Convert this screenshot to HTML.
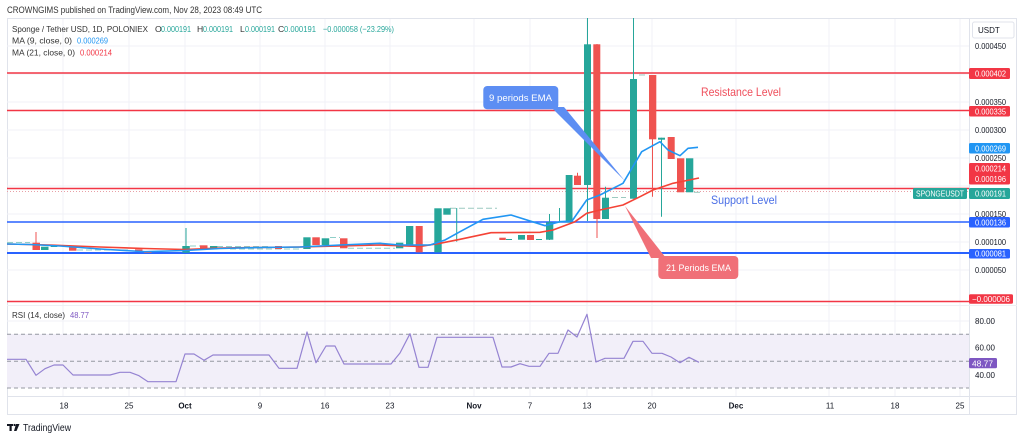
<!DOCTYPE html>
<html>
<head>
<meta charset="utf-8">
<style>
html,body{margin:0;padding:0;background:#fff;}
svg{display:block;}
text{font-family:"Liberation Sans",sans-serif;}
</style>
</head>
<body>
<svg width="1024" height="439" viewBox="0 0 1024 439" xmlns="http://www.w3.org/2000/svg">
<rect width="1024" height="439" fill="#fff"/>

<!-- header -->
<text x="7" y="13" font-size="9" fill="#333" textLength="255" lengthAdjust="spacingAndGlyphs">CROWNGIMS published on TradingView.com, Nov 28, 2023 08:49 UTC</text>

<!-- frame -->
<rect x="7.5" y="18.5" width="1009" height="396" fill="none" stroke="#e0e3eb" stroke-width="1"/>

<!-- grid -->
<g stroke="#f0f2f7" stroke-width="1">
<line x1="63" y1="19" x2="63" y2="396"/>
<line x1="129" y1="19" x2="129" y2="396"/>
<line x1="185" y1="19" x2="185" y2="396"/>
<line x1="260" y1="19" x2="260" y2="396"/>
<line x1="325" y1="19" x2="325" y2="396"/>
<line x1="390" y1="19" x2="390" y2="396"/>
<line x1="474" y1="19" x2="474" y2="396"/>
<line x1="530" y1="19" x2="530" y2="396"/>
<line x1="587" y1="19" x2="587" y2="396"/>
<line x1="652" y1="19" x2="652" y2="396"/>
<line x1="736" y1="19" x2="736" y2="396"/>
<line x1="829" y1="19" x2="829" y2="396"/>
<line x1="895" y1="19" x2="895" y2="396"/>
<line x1="960" y1="19" x2="960" y2="396"/>
<line x1="7" y1="46" x2="969" y2="46"/>
<line x1="7" y1="74" x2="969" y2="74"/>
<line x1="7" y1="102" x2="969" y2="102"/>
<line x1="7" y1="130" x2="969" y2="130"/>
<line x1="7" y1="158" x2="969" y2="158"/>
<line x1="7" y1="186" x2="969" y2="186"/>
<line x1="7" y1="214" x2="969" y2="214"/>
<line x1="7" y1="242" x2="969" y2="242"/>
<line x1="7" y1="270" x2="969" y2="270"/>
<line x1="7" y1="321" x2="969" y2="321"/>
<line x1="7" y1="347" x2="969" y2="347"/>
<line x1="7" y1="375" x2="969" y2="375"/>
</g>

<!-- axis separators -->
<line x1="969.5" y1="18" x2="969.5" y2="415" stroke="#e0e3eb"/>
<line x1="7" y1="396.5" x2="1017" y2="396.5" stroke="#e0e3eb"/>
<line x1="7" y1="305.5" x2="1017" y2="305.5" stroke="#eef0f4"/>

<!-- legend -->
<g font-size="8.6">
<text x="12" y="32" fill="#333" textLength="136" lengthAdjust="spacingAndGlyphs">Sponge / Tether USD, 1D, POLONIEX</text>
<text x="155" y="32" fill="#333">O</text><text x="161" y="32" fill="#26a69a" textLength="30" lengthAdjust="spacingAndGlyphs">0.000191</text>
<text x="197" y="32" fill="#333">H</text><text x="203" y="32" fill="#26a69a" textLength="30" lengthAdjust="spacingAndGlyphs">0.000191</text>
<text x="240" y="32" fill="#333">L</text><text x="245" y="32" fill="#26a69a" textLength="30" lengthAdjust="spacingAndGlyphs">0.000191</text>
<text x="278" y="32" fill="#333">C</text><text x="284" y="32" fill="#26a69a" textLength="32" lengthAdjust="spacingAndGlyphs">0.000191</text>
<text x="323" y="32" fill="#26a69a" textLength="71" lengthAdjust="spacingAndGlyphs">−0.000058 (−23.29%)</text>
<text x="12" y="43.5" fill="#333" textLength="60" lengthAdjust="spacingAndGlyphs">MA (9, close, 0)</text>
<text x="77" y="43.5" fill="#2196f3" textLength="31" lengthAdjust="spacingAndGlyphs">0.000269</text>
<text x="12" y="55.5" fill="#333" textLength="63" lengthAdjust="spacingAndGlyphs">MA (21, close, 0)</text>
<text x="80" y="55.5" fill="#f23645" textLength="32" lengthAdjust="spacingAndGlyphs">0.000214</text>
</g>

<!-- horizontal level lines -->
<line x1="7" y1="73" x2="969" y2="73" stroke="#f23645" stroke-width="1.4"/>
<line x1="7" y1="110.5" x2="969" y2="110.5" stroke="#f23645" stroke-width="1.4"/>
<line x1="7" y1="188.5" x2="969" y2="188.5" stroke="#f23645" stroke-width="1.4"/>
<line x1="7" y1="191.5" x2="969" y2="191.5" stroke="#e8a0a6" stroke-width="1" stroke-dasharray="1,2"/>
<line x1="7" y1="222" x2="969" y2="222" stroke="#2962ff" stroke-width="1.5"/>
<line x1="7" y1="253" x2="969" y2="253" stroke="#2962ff" stroke-width="2"/>
<line x1="7" y1="301.5" x2="969" y2="301.5" stroke="#f23645" stroke-width="1.4"/>

<!-- doji dashes -->
<g stroke-width="1" stroke-dasharray="6,3">
<line x1="7" y1="242.5" x2="30" y2="242.5" stroke="#8fcfc8"/>
<line x1="77" y1="250" x2="130" y2="250" stroke="#8fcfc8"/>
<line x1="190" y1="246" x2="200" y2="246" stroke="#8fcfc8"/>
<line x1="217" y1="246.5" x2="270" y2="246.5" stroke="#8fcfc8"/>
<line x1="230" y1="249" x2="300" y2="249" stroke="#8fcfc8"/>
<line x1="330" y1="237.5" x2="340" y2="237.5" stroke="#8fcfc8"/>
<line x1="348" y1="248.3" x2="395" y2="248.3" stroke="#8fcfc8"/>
<line x1="450" y1="208.3" x2="497" y2="208.3" stroke="#9cc9c0"/>
<line x1="506" y1="239.5" x2="515" y2="239.5" stroke="#26a69a"/>
<line x1="536" y1="239.5" x2="544" y2="239.5" stroke="#26a69a"/>
<line x1="612" y1="197.5" x2="626" y2="197.5" stroke="#9cc9c0"/>
<line x1="639" y1="75" x2="647" y2="75" stroke="#9cc9c0"/>
<line x1="694" y1="192.3" x2="702" y2="192.3" stroke="#9cc9c0"/>
</g>

<!-- wicks -->
<g stroke-width="1">
<line x1="36" y1="232" x2="36" y2="250" stroke="#ef5350"/>
<line x1="186" y1="228" x2="186" y2="252.7" stroke="#26a69a"/>
<line x1="456.7" y1="208" x2="456.7" y2="241.7" stroke="#26a69a"/>
<line x1="549.5" y1="214" x2="549.5" y2="240" stroke="#26a69a"/>
<line x1="559.5" y1="208" x2="559.5" y2="222" stroke="#26a69a"/>
<line x1="577.5" y1="172.7" x2="577.5" y2="185" stroke="#ef5350"/>
<line x1="587.5" y1="18" x2="587.5" y2="221" stroke="#26a69a"/>
<line x1="597" y1="44" x2="597" y2="238" stroke="#ef5350"/>
<line x1="605.5" y1="186.7" x2="605.5" y2="219" stroke="#26a69a"/>
<line x1="633.5" y1="18" x2="633.5" y2="198.7" stroke="#26a69a"/>
<line x1="652.5" y1="75" x2="652.5" y2="196.7" stroke="#ef5350"/>
<line x1="661.5" y1="137.7" x2="661.5" y2="216.7" stroke="#26a69a"/>
</g>

<!-- candles -->
<g>
<rect x="32.5" y="242.7" width="7.5" height="7.3" fill="#ef5350"/>
<rect x="41" y="246.7" width="7.5" height="3.3" fill="#26a69a"/>
<rect x="50.7" y="245" width="6.6" height="2" fill="#26a69a"/>
<rect x="69" y="245.7" width="7.5" height="5" fill="#ef5350"/>
<rect x="135" y="249.3" width="7.5" height="2.4" fill="#ef5350"/>
<rect x="144" y="251" width="7.5" height="2" fill="#ef5350"/>
<rect x="182.3" y="246" width="7.5" height="6.7" fill="#26a69a"/>
<rect x="200" y="245.3" width="7.5" height="4" fill="#ef5350"/>
<rect x="210" y="246" width="7.3" height="3.3" fill="#26a69a"/>
<rect x="275" y="246" width="7" height="3" fill="#ef5350"/>
<rect x="303.3" y="237.3" width="7.3" height="11.7" fill="#26a69a"/>
<rect x="312.3" y="237.3" width="7.5" height="7.7" fill="#ef5350"/>
<rect x="321.7" y="238.3" width="7.5" height="6.7" fill="#26a69a"/>
<rect x="340" y="238.3" width="7.5" height="10" fill="#ef5350"/>
<rect x="396" y="242.7" width="7.3" height="5.6" fill="#26a69a"/>
<rect x="406" y="226" width="7.3" height="19" fill="#26a69a"/>
<rect x="415.7" y="226" width="7" height="26.3" fill="#ef5350"/>
<rect x="434.3" y="208.3" width="7.4" height="44" fill="#26a69a"/>
<rect x="443.3" y="208.3" width="7.4" height="6.4" fill="#26a69a"/>
<rect x="499.3" y="237.7" width="6.5" height="2.3" fill="#ef5350"/>
<rect x="518" y="235" width="7" height="4.7" fill="#26a69a"/>
<rect x="527" y="235" width="7" height="5" fill="#ef5350"/>
<rect x="546" y="222.3" width="7.3" height="17.4" fill="#26a69a"/>
<rect x="565.7" y="175" width="6.8" height="47.5" fill="#26a69a"/>
<rect x="574" y="175.7" width="7" height="9.3" fill="#ef5350"/>
<rect x="584" y="44.3" width="7" height="140.7" fill="#26a69a"/>
<rect x="593.3" y="44.3" width="7" height="174.7" fill="#ef5350"/>
<rect x="602" y="197.7" width="7" height="21.3" fill="#26a69a"/>
<rect x="630" y="79" width="7" height="119.7" fill="#26a69a"/>
<rect x="649" y="75" width="7.3" height="64.3" fill="#ef5350"/>
<rect x="658" y="137.7" width="7" height="2" fill="#26a69a"/>
<rect x="667.7" y="137" width="7" height="22" fill="#ef5350"/>
<rect x="677" y="158.3" width="7.3" height="34" fill="#ef5350"/>
<rect x="686" y="158.3" width="7.3" height="34" fill="#26a69a"/>
</g>

<!-- MA lines -->
<polyline fill="none" stroke="#f44336" stroke-width="1.6" stroke-linejoin="round" points="7,244 50,245 100,247 145,248.5 185,249.5 220,248 260,247.5 300,247 340,246 380,245 420,246.5 440,243.3 460,239.3 491,232.7 540,232.3 553,230 575,221.7 586.7,213.3 600,210 623,205 640,196.7 653,190 673,183.3 699,178"/>
<polyline fill="none" stroke="#2196f3" stroke-width="1.6" stroke-linejoin="round" points="7,244 30,244.5 60,246 100,249 145,251.7 185,250.5 220,248.5 260,247.5 300,247 340,245 380,243.3 400,245 430,245 445,240 460,231.7 483,219.3 511,215 545,225.7 560,221.7 572,221 586.7,200 600,195 623,183.3 641.7,151.7 660,141.7 668,150 680,155.7 688,148.3 698,147.3"/>

<!-- annotations -->
<polygon points="551,107 564,107 625,181" fill="#5d8ef3"/>
<rect x="483.3" y="86" width="75" height="23.3" rx="4" fill="#5d8ef3"/>
<text x="489" y="101" font-size="9.5" fill="#fff" textLength="63" lengthAdjust="spacingAndGlyphs">9 periods EMA</text>

<polygon points="625,206 651,258 666,258" fill="#f07078"/>
<rect x="658.3" y="256" width="80" height="23" rx="4" fill="#f07078"/>
<text x="666" y="271" font-size="9.5" fill="#fff" textLength="65" lengthAdjust="spacingAndGlyphs">21 Periods EMA</text>

<text x="701" y="96" font-size="12" fill="#ef4f5c" textLength="80" lengthAdjust="spacingAndGlyphs">Resistance Level</text>
<text x="711" y="204" font-size="12" fill="#4b6fe6" textLength="66" lengthAdjust="spacingAndGlyphs">Support Level</text>

<!-- RSI -->
<rect x="7" y="334" width="962" height="54" fill="#f2eff9"/>
<g stroke="#9598a1" stroke-width="1" stroke-dasharray="4,3">
<line x1="7" y1="334.3" x2="969" y2="334.3"/>
<line x1="7" y1="361.3" x2="969" y2="361.3"/>
<line x1="7" y1="388" x2="969" y2="388"/>
</g>
<polyline fill="none" stroke="#9583d2" stroke-width="1.2" stroke-linejoin="round" points="7,359.3 26,359.3 36,375.3 45,368.7 54,365 63,365 73,375 110,375 120,372.3 130,372.3 139,375.7 148,381.7 176,381.7 185,354 194,354 204,360.3 213,355 269,355 279,368.3 297,368.3 307,332 316,362.7 326,346 335,346 344,364 391,364 400,353 410,333.7 419,367.3 428,367.3 437,337.3 493,337.3 502,367 511,367 520,363.7 529,366.3 540,366.3 549,353.3 558,353.3 568,330 577,337 587,314.3 596,362 605,358.3 624,358.3 633,341.3 643,341.3 652,353.3 662,353.3 671,357 680,362.7 689,357.3 699,362.3"/>
<text x="12" y="318" font-size="8.6" fill="#333" textLength="53" lengthAdjust="spacingAndGlyphs">RSI (14, close)</text>
<text x="70" y="318" font-size="8.6" fill="#7e57c2" textLength="19" lengthAdjust="spacingAndGlyphs">48.77</text>

<!-- right axis -->
<rect x="972.5" y="22" width="41.5" height="16" rx="2" fill="#fff" stroke="#e0e3eb"/>
<text x="978" y="33" font-size="8" fill="#131722">USDT</text>
<g font-size="7.8" fill="#131722">
<text x="975" y="49" textLength="31" lengthAdjust="spacingAndGlyphs">0.000450</text>
<text x="975" y="105" textLength="31" lengthAdjust="spacingAndGlyphs">0.000350</text>
<text x="975" y="133" textLength="31" lengthAdjust="spacingAndGlyphs">0.000300</text>
<text x="975" y="161" textLength="31" lengthAdjust="spacingAndGlyphs">0.000250</text>
<text x="975" y="217" textLength="31" lengthAdjust="spacingAndGlyphs">0.000150</text>
<text x="975" y="245" textLength="31" lengthAdjust="spacingAndGlyphs">0.000100</text>
<text x="975" y="273" textLength="31" lengthAdjust="spacingAndGlyphs">0.000050</text>
<text x="975" y="324" textLength="20" lengthAdjust="spacingAndGlyphs">80.00</text>
<text x="975" y="350.5" textLength="20" lengthAdjust="spacingAndGlyphs">60.00</text>
<text x="975" y="378" textLength="20" lengthAdjust="spacingAndGlyphs">40.00</text>
</g>
<g>
<rect x="969" y="68" width="41" height="11" rx="1.5" fill="#f23645"/>
<rect x="969" y="106" width="41" height="10.5" rx="1.5" fill="#f23645"/>
<rect x="969" y="143" width="41" height="10.5" rx="1.5" fill="#2196f3"/>
<rect x="969" y="163" width="41" height="21.5" rx="1.5" fill="#f23645"/>
<rect x="969" y="188" width="41" height="11" rx="1.5" fill="#26a69a"/>
<rect x="913" y="188" width="54" height="11" rx="1.5" fill="#26a69a"/>
<rect x="969" y="217" width="41" height="10.5" rx="1.5" fill="#2962ff"/>
<rect x="969" y="249" width="41" height="9.5" rx="1.5" fill="#2962ff"/>
<rect x="969" y="294.3" width="44" height="9.5" rx="1.5" fill="#f23645"/>
<rect x="969" y="358" width="28" height="10.3" rx="1.5" fill="#7e57c2"/>
</g>
<g font-size="7.8" fill="#fff">
<text x="975" y="76.5" textLength="31" lengthAdjust="spacingAndGlyphs">0.000402</text>
<text x="975" y="114.3" textLength="31" lengthAdjust="spacingAndGlyphs">0.000335</text>
<text x="975" y="151.3" textLength="31" lengthAdjust="spacingAndGlyphs">0.000269</text>
<text x="975" y="171.3" textLength="31" lengthAdjust="spacingAndGlyphs">0.000214</text>
<text x="975" y="182" textLength="31" lengthAdjust="spacingAndGlyphs">0.000196</text>
<text x="975" y="196.5" textLength="31" lengthAdjust="spacingAndGlyphs">0.000191</text>
<text x="916" y="196.5" textLength="48" lengthAdjust="spacingAndGlyphs">SPONGEUSDT</text>
<text x="975" y="225.3" textLength="31" lengthAdjust="spacingAndGlyphs">0.000136</text>
<text x="975" y="256.7" textLength="31" lengthAdjust="spacingAndGlyphs">0.000081</text>
<text x="972" y="302" textLength="38" lengthAdjust="spacingAndGlyphs">−0.000006</text>
<text x="972" y="366.3" textLength="21" lengthAdjust="spacingAndGlyphs">48.77</text>
</g>

<!-- time axis -->
<g font-size="8" fill="#131722" text-anchor="middle">
<text x="64" y="408.5">18</text>
<text x="129" y="408.5">25</text>
<text x="185" y="408.5" font-weight="bold">Oct</text>
<text x="260" y="408.5">9</text>
<text x="325" y="408.5">16</text>
<text x="390" y="408.5">23</text>
<text x="474" y="408.5" font-weight="bold">Nov</text>
<text x="530" y="408.5">7</text>
<text x="587" y="408.5">13</text>
<text x="652" y="408.5">20</text>
<text x="736" y="408.5" font-weight="bold">Dec</text>
<text x="830" y="408.5">11</text>
<text x="895" y="408.5">18</text>
<text x="960" y="408.5">25</text>
</g>

<!-- TradingView logo -->
<g fill="#131722">
<rect x="7" y="424" width="6" height="2"/>
<rect x="9.5" y="424" width="2.2" height="7"/>
<circle cx="14.5" cy="425" r="1.1"/>
<polygon points="16,424 19.5,424 16.5,431 14,431"/>
</g>
<text x="23" y="431" font-size="10" fill="#131722" textLength="48" lengthAdjust="spacingAndGlyphs">TradingView</text>
</svg>
</body>
</html>
